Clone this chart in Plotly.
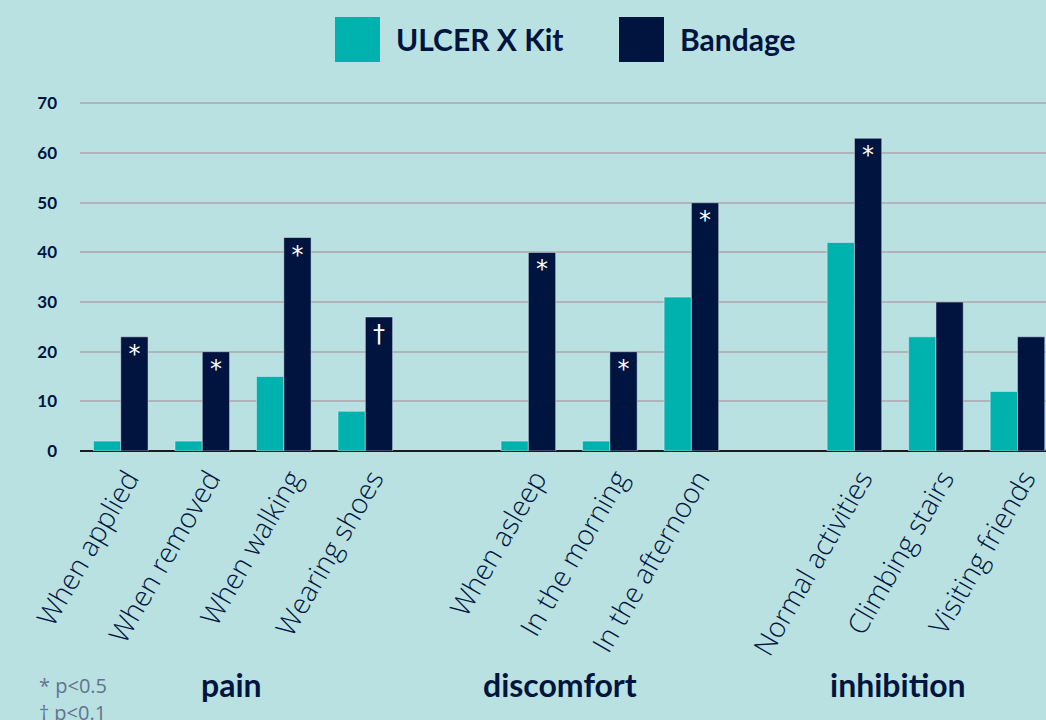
import plotly.graph_objects as go

groups = ["pain", "discomfort", "inhibition"]
group_items = [
    ["When applied", "When removed", "When walking", "Wearing shoes"],
    ["When asleep", "In the morning", "In the afternoon"],
    ["Normal activities", "Climbing stairs", "Visiting friends"],
]
ulcer_kit = [2, 2, 15, 8, 2, 2, 31, 42, 23, 12]
bandage = [23, 20, 43, 27, 40, 20, 50, 63, 30, 23]
significance = ["*", "*", "*", "†", "*", "*", "*", "*", "", ""]
series_names = ["ULCER X Kit", "Bandage"]
y_ticks = [0, 10, 20, 30, 40, 50, 60, 70]
footnotes = ["* p<0.5", "† p<0.1"]

TEAL = "#00b2ad"
NAVY = "#001440"
BG = "#bae1e1"

# category positions with one empty slot between groups
labels, xpos = [], []
slot = 0
for gi, items in enumerate(group_items):
    for it in items:
        labels.append(it)
        xpos.append(slot)
        slot += 1
    slot += 1

fig = go.Figure()
fig.add_trace(go.Bar(x=xpos, y=ulcer_kit, name=series_names[0], marker_color=TEAL,
                     showlegend=False))
fig.add_trace(go.Bar(x=xpos, y=bandage, name=series_names[1], marker_color=NAVY,
                     text=significance, textposition="inside", insidetextanchor="end",
                     textfont=dict(color="white", size=24, family="DejaVu Sans"),
                     constraintext="none", textangle=0, showlegend=False))

font_main = "Lato, 'Noto Sans', sans-serif"
font_light = "'Open Sans', Lato, sans-serif"

fig.update_layout(
    width=1046, height=720,
    paper_bgcolor=BG, plot_bgcolor=BG,
    margin=dict(l=80, r=0, t=101, b=269),
    barmode="group", bargap=0.33, bargroupgap=0,
    font=dict(family=font_main, color=NAVY),
    xaxis=dict(range=[-0.5, 11.35], tickmode="array", tickvals=xpos, ticktext=labels,
               tickangle=-60, tickfont=dict(size=28, color=NAVY, family=font_light, weight=300),
               ticklabelshift=7, ticklabelstandoff=5,
               showgrid=False, zeroline=False, showline=False, ticks=""),
    yaxis=dict(range=[0, 70.5], tickmode="array", tickvals=y_ticks,
               tickfont=dict(size=17, color=NAVY, family=font_main, weight="bold"),
               showgrid=True, gridcolor="#b1b3b9", gridwidth=2,
               zeroline=True, zerolinecolor="#1b1b1b", zerolinewidth=2,
               ticks="", ticklabelstandoff=22),
)

def px_x(x):
    return (x - 80) / 966

def px_y(y):
    return (451 - y) / 350

# legend drawn as shapes + annotations (large swatches)
legend_items = [(series_names[0], TEAL, 335, 380, 394), (series_names[1], NAVY, 619, 664, 678)]
for name, col, x0, x1, tx in legend_items:
    fig.add_shape(type="rect", xref="paper", yref="paper",
                  x0=px_x(x0), x1=px_x(x1), y0=px_y(62), y1=px_y(17),
                  fillcolor=col, line_width=0)
    fig.add_annotation(xref="paper", yref="paper", x=px_x(tx), y=px_y(39),
                       text="<b>%s</b>" % name, showarrow=False, xanchor="left",
                       yanchor="middle", font=dict(size=30, color=NAVY, family=font_main))

group_px = [231, 560, 898]
for g, c in zip(groups, group_px):
    fig.add_annotation(xref="paper", yref="paper", x=px_x(c), y=px_y(684),
                       text="<b>%s</b>" % g, showarrow=False, xanchor="center",
                       yanchor="middle",
                       font=dict(size=32, color=NAVY, family=font_main))

for i, fn in enumerate(footnotes):
    fig.add_annotation(xref="paper", yref="paper", x=px_x(37),
                       y=px_y(686 + 26 * i), text=fn, showarrow=False,
                       xanchor="left", yanchor="middle",
                       font=dict(size=20, color="#627390", family=font_light))

fig.write_html("out.html", config={"displayModeBar": False},
               post_script="document.body.style.margin='0';")
